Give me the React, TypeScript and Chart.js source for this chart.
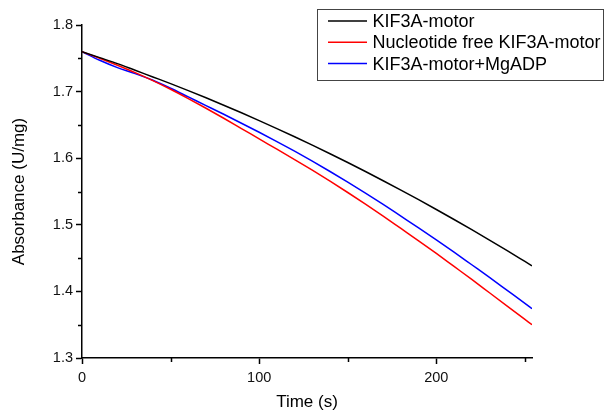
import React, { useEffect, useRef } from "react";
import { Chart, registerables } from "chart.js";

Chart.register(...registerables);

const times = [0, 10, 20, 30, 40, 50, 60, 70, 80, 90, 100, 110, 120, 130, 140, 150, 160, 170, 180, 190, 200, 210, 220, 230, 240, 250, 254];
const kif3a = [1.760, 1.751, 1.742, 1.732, 1.722, 1.712, 1.7015, 1.6907, 1.6796, 1.6682, 1.6565, 1.6445, 1.6322, 1.6196, 1.6067, 1.5935, 1.580, 1.5662, 1.5521, 1.5377, 1.523, 1.508, 1.4927, 1.4771, 1.4612, 1.445, 1.4385];
const nucleotideFree = [1.760, 1.750, 1.7395, 1.7285, 1.7165, 1.7035, 1.6895, 1.675, 1.660, 1.6445, 1.629, 1.6135, 1.598, 1.582, 1.5655, 1.5485, 1.531, 1.513, 1.4945, 1.476, 1.457, 1.4375, 1.418, 1.398, 1.378, 1.358, 1.350];
const mgadp = [1.760, 1.747, 1.736, 1.727, 1.717, 1.705, 1.692, 1.679, 1.666, 1.6525, 1.639, 1.625, 1.6105, 1.5955, 1.580, 1.564, 1.5475, 1.5305, 1.513, 1.4955, 1.4775, 1.459, 1.440, 1.421, 1.4015, 1.382, 1.374];

const seriesLabels = ["KIF3A-motor", "Nucleotide free KIF3A-motor", "KIF3A-motor+MgADP"];
const seriesColors = ["#000000", "#ff0000", "#0000ff"];

const xMajorTicks = [0, 100, 200];
const xMinorTicks = [50, 150, 250];
const yMajorTicks = [1.3, 1.4, 1.5, 1.6, 1.7, 1.8];
const yMinorTicks = [1.35, 1.45, 1.55, 1.65, 1.75];

const FONT = "'Liberation Sans', Arial, sans-serif";

const minorTicksPlugin = {
  id: "minorTicks",
  afterDraw(chart: any) {
    const ctx = chart.ctx;
    const x = chart.scales.x;
    const y = chart.scales.y;
    const area = chart.chartArea;
    ctx.save();
    ctx.strokeStyle = "#000";
    ctx.lineWidth = 1.5;
    ctx.beginPath();
    xMinorTicks.forEach((v) => {
      const px = Math.round(x.getPixelForValue(v)) + 0.5;
      ctx.moveTo(px, area.bottom);
      ctx.lineTo(px, area.bottom + 4);
    });
    yMinorTicks.forEach((v) => {
      const py = Math.round(y.getPixelForValue(v)) + 0.5;
      ctx.moveTo(area.left, py);
      ctx.lineTo(area.left - 4, py);
    });
    ctx.stroke();
    ctx.restore();
  },
};

const boxedLegendPlugin = {
  id: "boxedLegend",
  afterDraw(chart: any) {
    const ctx = chart.ctx;
    ctx.save();
    ctx.fillStyle = "#ffffff";
    ctx.fillRect(317.5, 9.5, 286, 71);
    ctx.strokeStyle = "#444444";
    ctx.lineWidth = 1;
    ctx.strokeRect(317.5, 9.5, 286, 71);
    ctx.font = "18px " + FONT;
    ctx.textBaseline = "middle";
    ctx.textAlign = "left";
    chart.data.datasets.forEach((ds: any, i: number) => {
      const cy = 21 + i * 21.3;
      ctx.strokeStyle = ds.borderColor;
      ctx.lineWidth = 1.5;
      ctx.beginPath();
      ctx.moveTo(328, cy);
      ctx.lineTo(367, cy);
      ctx.stroke();
      ctx.fillStyle = "#000";
      ctx.fillText(ds.label, 372.5, cy + 1);
    });
    ctx.restore();
  },
};

export default function App() {
  const ref = useRef<HTMLCanvasElement>(null);

  useEffect(() => {
    document.body.style.margin = "0";
    document.body.style.background = "#ffffff";
    const series = [kif3a, nucleotideFree, mgadp];
    const chart = new Chart(ref.current!, {
      type: "line",
      data: {
        datasets: series.map((vals, i) => ({
          label: seriesLabels[i],
          data: times.map((t, j) => ({ x: t, y: vals[j] })),
          borderColor: seriesColors[i],
          backgroundColor: seriesColors[i],
          borderWidth: 1.5,
          pointRadius: 0,
          cubicInterpolationMode: "monotone" as const,
          fill: false,
        })),
      },
      options: {
        animation: false,
        responsive: false,
        maintainAspectRatio: false,
        layout: { padding: { top: 25, right: 73, left: 0, bottom: 0 } },
        plugins: {
          legend: { display: false },
          tooltip: { enabled: false },
        },
        scales: {
          x: {
            type: "linear",
            min: 0,
            max: 254,
            afterBuildTicks: (s: any) => {
              s.ticks = xMajorTicks.map((v) => ({ value: v }));
            },
            afterFit: (s: any) => {
              s.height = 62;
            },
            ticks: {
              color: "#111",
              font: { family: FONT, size: 14.5 },
              padding: 5,
              maxRotation: 0,
            },
            grid: {
              display: true,
              drawOnChartArea: false,
              drawTicks: true,
              tickLength: 6,
              tickColor: "#000",
              tickWidth: 1.5,
            },
            border: { display: true, color: "#000", width: 1.5 },
            title: {
              display: true,
              text: "Time (s)",
              color: "#000",
              font: { family: FONT, size: 17 },
              padding: { top: 0, bottom: 7 },
            },
          },
          y: {
            type: "linear",
            min: 1.3,
            max: 1.8,
            afterBuildTicks: (s: any) => {
              s.ticks = yMajorTicks.map((v) => ({ value: v }));
            },
            afterFit: (s: any) => {
              s.width = 82;
            },
            ticks: {
              color: "#111",
              font: { family: FONT, size: 14.5 },
              padding: 3,
              callback: (v: any) => Number(v).toFixed(1),
            },
            grid: {
              display: true,
              drawOnChartArea: false,
              drawTicks: true,
              tickLength: 6,
              tickColor: "#000",
              tickWidth: 1.5,
            },
            border: { display: true, color: "#000", width: 1.5 },
            title: {
              display: true,
              text: "Absorbance (U/mg)",
              color: "#000",
              font: { family: FONT, size: 17 },
              padding: { top: 9, bottom: 0 },
            },
          },
        },
      },
      plugins: [minorTicksPlugin, boxedLegendPlugin],
    });
    return () => chart.destroy();
  }, []);

  return (
    <div style={{ position: "relative", width: 605, height: 420, background: "#fff" }}>
      <canvas ref={ref} width={605} height={420} style={{ width: 605, height: 420, display: "block" }} />
    </div>
  );
}
